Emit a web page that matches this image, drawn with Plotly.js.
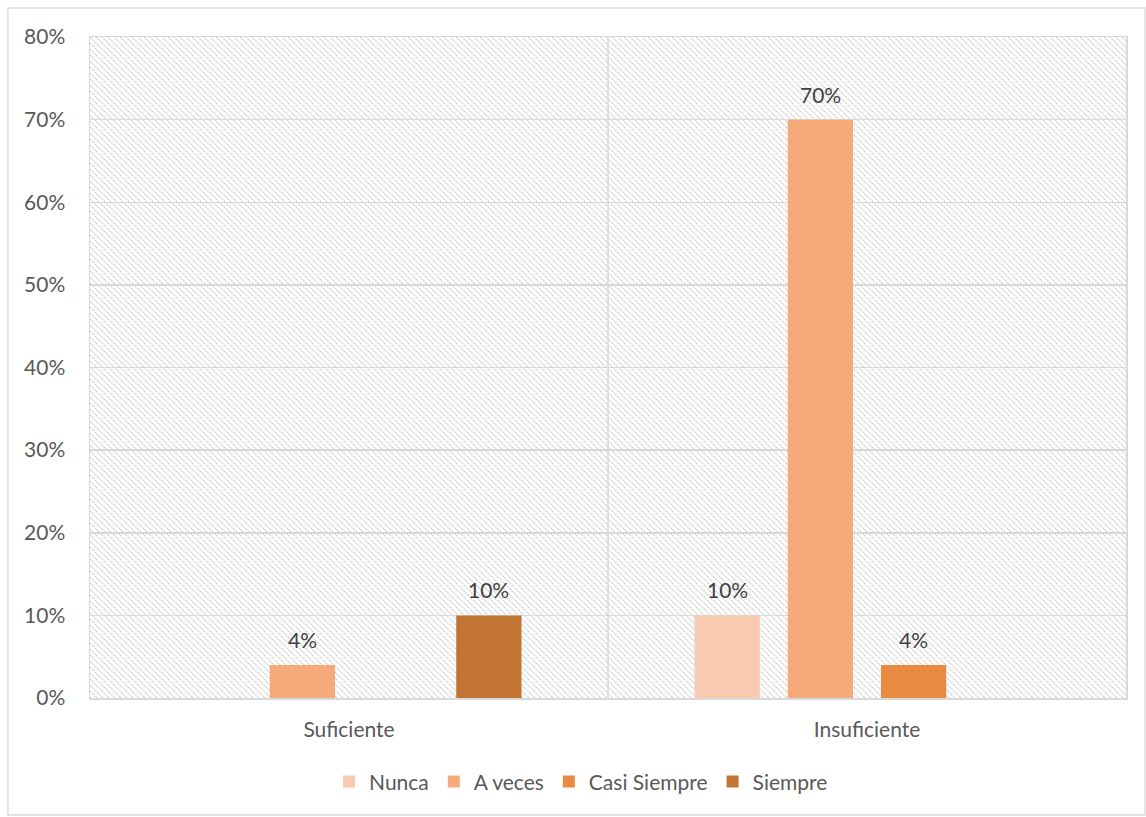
<!DOCTYPE html>
<html>
<head>
<meta charset="utf-8">
<script src="https://cdn.plot.ly/plotly-3.0.1.min.js"></script>
<style>
  html, body { margin: 0; padding: 0; background: #ffffff; }
  #chart { width: 1146px; height: 817px; }
</style>
</head>
<body>
<div id="chart"></div>
<script>
const categories = ["Suficiente", "Insuficiente"];
const seriesNames = ["Nunca", "A veces", "Casi Siempre", "Siempre"];
const nunca = [0, 0.10];
const aVeces = [0.04, 0.70];
const casiSiempre = [0, 0.04];
const siempre = [0.10, 0];
const yTickValues = [0, 0.1, 0.2, 0.3, 0.4, 0.5, 0.6, 0.7, 0.8];
const yTickLabels = ["0%", "10%", "20%", "30%", "40%", "50%", "60%", "70%", "80%"];

const seriesValues = [nunca, aVeces, casiSiempre, siempre];
const colors = ["#F8CAB0", "#F7AA79", "#E88B40", "#C27535"];
const FONT = "Lato, 'Open Sans', sans-serif";
const FS = 21;

const traces = seriesNames.map((name, i) => ({
  type: "bar",
  name: name,
  x: categories,
  y: seriesValues[i],
  marker: { color: colors[i] },
  hoverinfo: "x+y+name"
}));

// data labels as annotations, offset to each bar's slot in its group
const slotPx = 93;
const annotations = [];
seriesValues.forEach((vals, i) => {
  vals.forEach((v, j) => {
    if (v > 0) {
      annotations.push({
        x: categories[j], y: v, xref: "x", yref: "y",
        text: Math.round(v * 100) + "%",
        showarrow: false,
        xanchor: "center", yanchor: "bottom",
        xshift: (i - 1.5) * slotPx,
        yshift: 11,
        font: { family: FONT, size: FS, color: "#404040" }
      });
    }
  });
});

const hatchSvg =
  "<svg xmlns='http://www.w3.org/2000/svg' width='1036' height='661'>" +
  "<defs><pattern id='p' width='6' height='6' patternUnits='userSpaceOnUse'>" +
  "<path d='M0,0 L6,6 M-3,3 L3,9 M3,-3 L9,3' stroke='#c8c8c8' stroke-width='1.3' stroke-dasharray='1.4,1'/>" +
  "</pattern></defs><rect width='1036' height='661' fill='url(#p)'/></svg>";

const layout = {
  width: 1146,
  height: 817,
  margin: { l: 90, r: 20, t: 37, b: 119 },
  paper_bgcolor: "#ffffff",
  plot_bgcolor: "rgba(0,0,0,0)",
  font: { family: FONT, size: FS, color: "#595959" },
  barmode: "group",
  bargap: 0.28,
  bargroupgap: 0.30,
  showlegend: true,
  legend: {
    orientation: "h",
    x: 0.474, xanchor: "center",
    y: -0.096, yanchor: "top",
    font: { family: FONT, size: FS, color: "#595959" },
    itemwidth: 30,
    traceorder: "normal"
  },
  xaxis: {
    type: "category",
    showgrid: false,
    showline: true,
    linecolor: "#d9d9d9",
    linewidth: 1.5,
    mirror: true,
    ticks: "",
    ticklen: 0,
    ticklabelstandoff: 12,
    tickfont: { family: FONT, size: FS, color: "#595959" },
    fixedrange: true
  },
  yaxis: {
    range: [0, 0.8],
    tickvals: yTickValues,
    ticktext: yTickLabels,
    showgrid: true,
    gridcolor: "#d9d9d9",
    gridwidth: 1.5,
    showline: true,
    linecolor: "#d9d9d9",
    linewidth: 1.5,
    mirror: true,
    zeroline: false,
    ticks: "",
    ticklabelstandoff: 19,
    tickfont: { family: FONT, size: FS, color: "#595959" },
    fixedrange: true
  },
  annotations: annotations,
  images: [{
    source: "data:image/svg+xml;charset=utf-8," + encodeURIComponent(hatchSvg),
    xref: "paper", yref: "paper",
    x: 0, y: 1, sizex: 1, sizey: 1,
    xanchor: "left", yanchor: "top",
    sizing: "stretch",
    layer: "below"
  }],
  shapes: [
    {
      type: "line", xref: "paper", yref: "paper",
      x0: 0.5, x1: 0.5, y0: 0, y1: 1,
      line: { color: "#d9d9d9", width: 1.5 },
      layer: "below"
    },
    {
      type: "rect", xref: "paper", yref: "paper",
      x0: -0.0792, x1: 1.0183, y0: -0.177, y1: 1.0439,
      line: { color: "#d9d9d9", width: 1.3 },
      fillcolor: "rgba(0,0,0,0)",
      layer: "below"
    }
  ]
};

Plotly.newPlot("chart", traces, layout, { displayModeBar: false, staticPlot: true });
</script>
</body>
</html>
